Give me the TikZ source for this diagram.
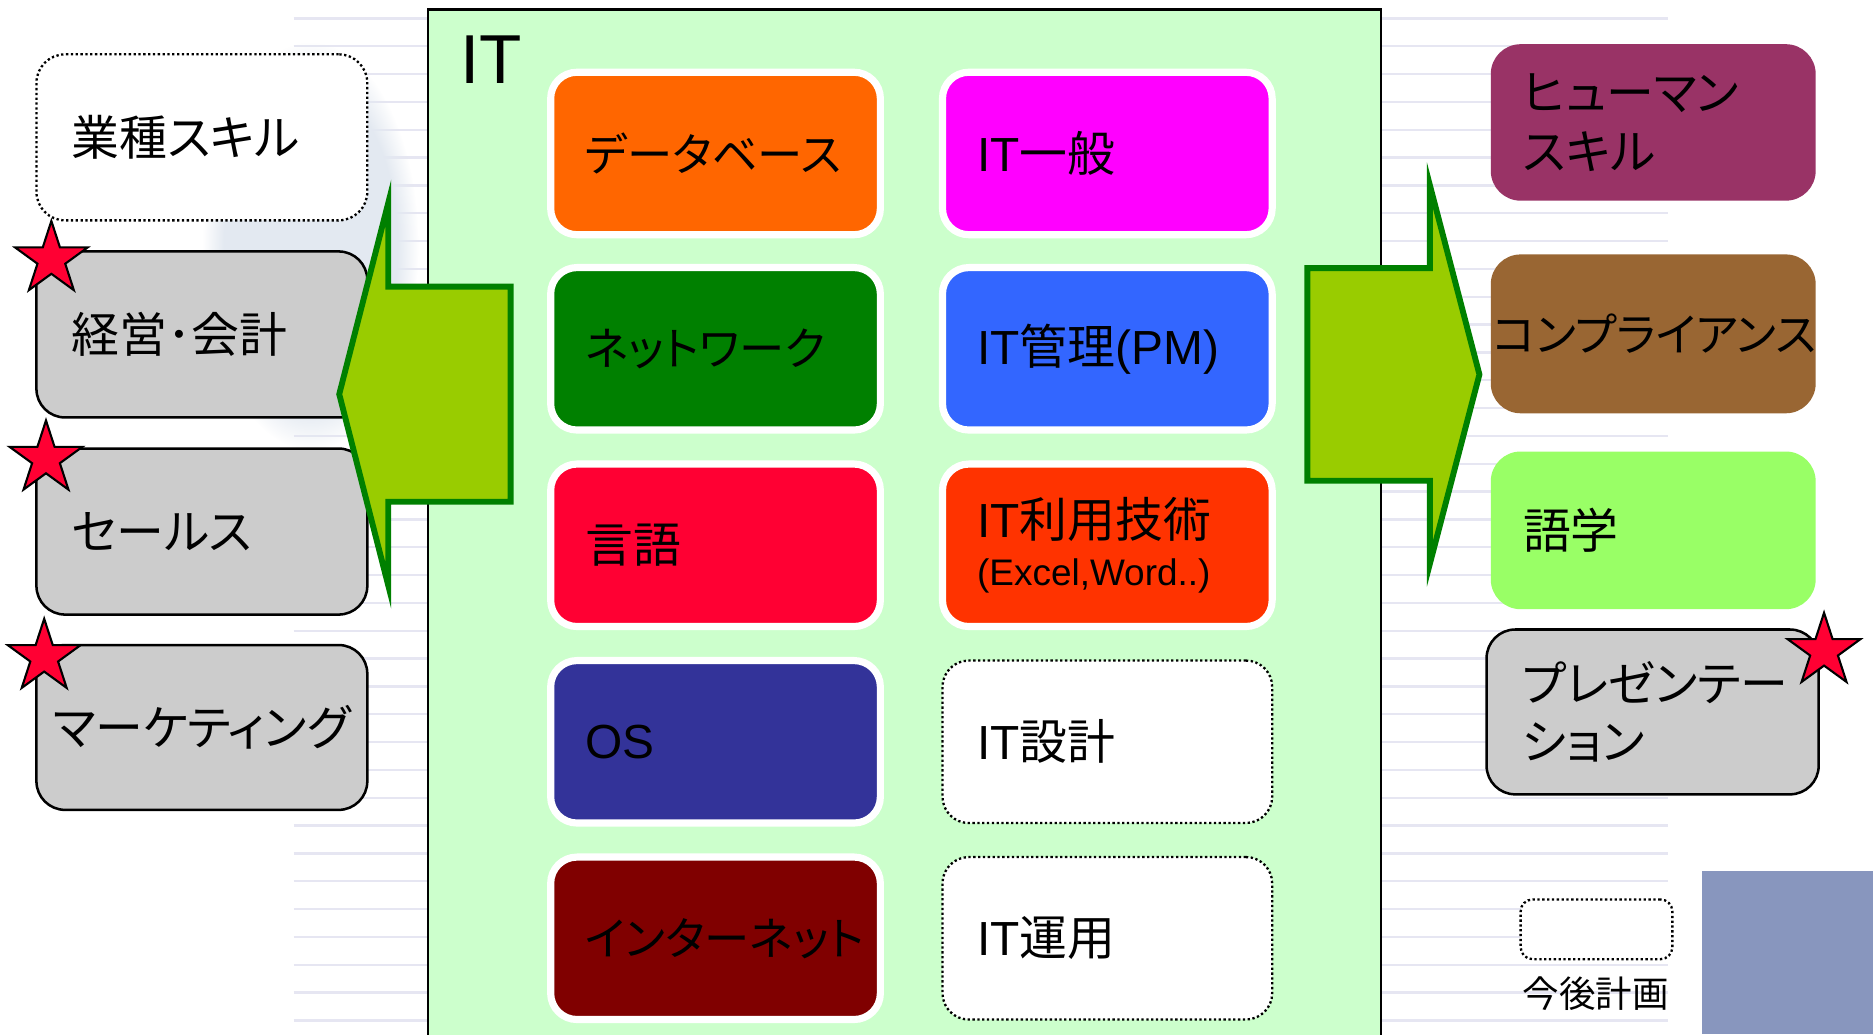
\documentclass[tikz,border=0pt]{standalone}
\usepackage{fontspec}
\setmainfont{Noto Sans CJK JP}[RawFeature=+palt]
\newfontfamily\latinfont{Liberation Sans}
\usetikzlibrary{shapes.geometric,fadings}

\definecolor{itgreen}{HTML}{CCFFCC}
\definecolor{boxgray}{HTML}{CCCCCC}
\definecolor{starred}{HTML}{FF0033}
\definecolor{arrowfill}{HTML}{99CC00}
\definecolor{arrowline}{HTML}{008000}
\definecolor{dbcolor}{HTML}{FF6600}
\definecolor{netcolor}{HTML}{008000}
\definecolor{langcolor}{HTML}{FF0033}
\definecolor{oscolor}{HTML}{333399}
\definecolor{webcolor}{HTML}{800000}
\definecolor{gencolor}{HTML}{FF00FF}
\definecolor{pmcolor}{HTML}{3366FF}
\definecolor{usecolor}{HTML}{FF3300}
\definecolor{humancolor}{HTML}{993366}
\definecolor{compcolor}{HTML}{996633}
\definecolor{lingcolor}{HTML}{99FF66}
\definecolor{cornerblue}{HTML}{8896BE}
\definecolor{ruleline}{HTML}{E6E6F2}
\definecolor{wmblue}{HTML}{E3E9F1}

\newcommand{\en}[1]{{\latinfont #1}}

\tikzset{
  dotline/.style={draw=black, line width=0.55pt, dash pattern=on 0.55pt off 0.6pt},
  kana/.style={font=\fontsize{10.8}{14}\selectfont},
  skill/.style={rounded corners=0.22cm, draw=white, line width=1.7pt,
    minimum width=2.76cm, minimum height=1.36cm, text width=2.18cm,
    inner xsep=0.29cm, inner ysep=0pt, align=left},
  planned/.style={skill, fill=white, dotline},
  sidebox/.style={skill, draw=black, line width=0.6pt, fill=boxgray,
    rounded corners=0.24cm, minimum width=2.77cm, minimum height=1.39cm},
  softbox/.style={skill, draw=none, rounded corners=0.25cm,
    minimum width=2.72cm, minimum height=1.32cm, inner xsep=0.27cm},
  redstar/.style={star, star points=5, star point ratio=2.618, fill=starred,
    draw=black, line width=0.5pt, minimum size=0.64cm, inner sep=0pt},
  bigarrow/.style={fill=arrowfill, draw=arrowline, line width=1.4pt, line join=miter},
}

\begin{document}
\begin{tikzpicture}[font=\fontsize{11.4}{14}\selectfont]
\fill[white] (0,0) rectangle (15.68,8.66);
\useasboundingbox (0,0) rectangle (15.68,8.66);

% background
\foreach \k in {0,...,36}
  \draw[ruleline, line width=0.55pt] (2.46,{8.506-0.233*\k}) -- (13.96,{8.506-0.233*\k});
\fill[wmblue, path fading=circle with fuzzy edge 20 percent] (2.6,6.6) ellipse [x radius=0.9cm, y radius=1.7cm];
\fill[cornerblue] (14.25,0) rectangle (15.68,1.37);

% IT
\draw[fill=itgreen, line width=0.5pt] (3.58,-0.2) rectangle (11.56,8.58);
\node[font=\latinfont\fontsize{16.5}{18}\selectfont, anchor=base west, inner sep=0pt] (itlabel) at (3.85,7.96) {IT};

\node[skill, kana, fill=dbcolor] (db) at (5.99,7.375) {データベース};
\node[skill, kana, fill=netcolor] (net) at (5.99,5.74) {ネットワーク};
\node[skill, fill=langcolor] (lang) at (5.99,4.095) {言語};
\node[skill, fill=oscolor] (os) at (5.99,2.45) {\en{OS}};
\node[skill, kana, fill=webcolor] (web) at (5.99,0.805) {インターネット};

\node[skill, fill=gencolor] (general) at (9.27,7.375) {\en{IT}一般};
\node[skill, fill=pmcolor] (pm) at (9.27,5.74) {\en{IT}管理\en{(PM)}};
\node[skill, fill=usecolor] (usage) at (9.27,4.095) {\en{IT}利用技術\\[-2.5pt]{\fontsize{8.8}{10}\selectfont\en{(Excel,Word..)}}};
\node[planned] (design) at (9.27,2.45) {\en{IT}設計};
\node[planned] (ops) at (9.27,0.805) {\en{IT}運用};

% business side
\node[sidebox, fill=white, dotline] (biz) at (1.69,7.51) {業種スキル};
\node[sidebox] (mgmt) at (1.69,5.86) {経営･会計};
\node[sidebox] (sales) at (1.69,4.21) {セールス};
\node[sidebox, align=center, text width=2.5cm, inner xsep=0.135cm, minimum height=1.38cm] (mkt) at (1.69,2.57) {マーケティング};

% human side
\node[softbox, fill=humancolor, minimum height=1.31cm] (human) at (13.84,7.635) {ヒューマン\\スキル};
\node[softbox, kana, fill=compcolor, minimum height=1.33cm, align=center, text width=2.68cm, inner xsep=0.02cm] (comp) at (13.84,5.865) {コンプライアンス};
\node[softbox, fill=lingcolor] (ling) at (13.84,4.22) {語学};
\node[sidebox, minimum width=2.77cm, minimum height=1.38cm, inner xsep=0.3cm] (pres) at (13.835,2.70) {プレゼンテー\\ション};

% arrows
\draw[bigarrow] (4.275,6.26) -- (3.25,6.26) -- (3.25,6.96) -- (2.84,5.36)
  -- (3.25,3.76) -- (3.25,4.46) -- (4.275,4.46) -- cycle;
\draw[bigarrow] (10.945,6.415) -- (11.97,6.415) -- (11.97,7.11) -- (12.385,5.525)
  -- (11.97,3.94) -- (11.97,4.635) -- (10.945,4.635) -- cycle;

% stars
\node[redstar] (star1) at (0.43,6.49) {};
\node[redstar] (star2) at (0.385,4.82) {};
\node[redstar] (star3) at (0.37,3.16) {};
\node[redstar] (star4) at (15.27,3.21) {};

% legend
\node[dotline, fill=white, rounded corners=0.1cm, minimum width=1.27cm, minimum height=0.5cm, inner sep=0pt] (legend) at (13.365,0.88) {};
\node[font=\fontsize{8.7}{10}\selectfont] (legendtext) at (13.36,0.34) {今後計画};
\end{tikzpicture}
\end{document}
